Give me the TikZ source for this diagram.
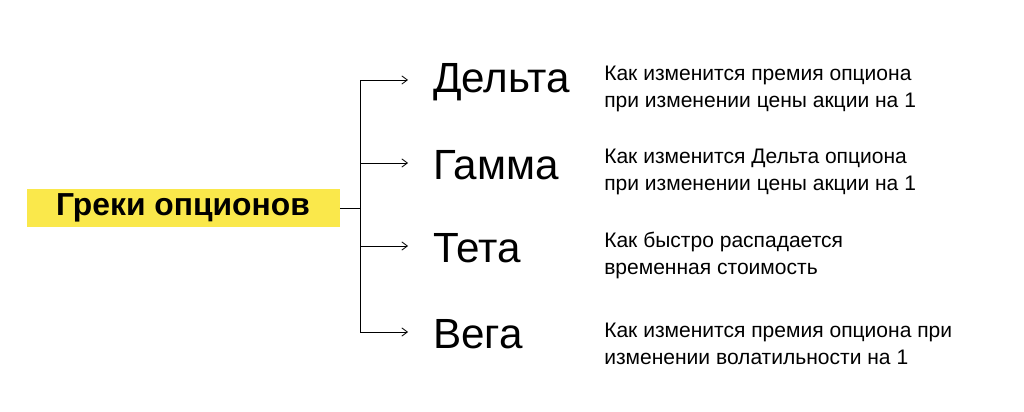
\documentclass[tikz,border=0pt]{standalone}
\usepackage{fontspec}
\setmainfont{Liberation Sans}
\usetikzlibrary{positioning,arrows.meta}
\definecolor{greekyellow}{HTML}{FAE84B}
\tikzset{greek/.style={anchor=west,inner sep=0pt,font=\fontsize{30.5}{36}\selectfont},
  note/.style={anchor=west,inner sep=0pt,align=left,font=\fontsize{15.2}{19.5}\selectfont},
  ptr/.style={draw,-{Straight Barb[length=4pt,width=6pt]},line width=0.6pt}}
\begin{document}
\begin{tikzpicture}[x=0.0254cm,y=-0.0254cm]
  \useasboundingbox[fill=white] (0,0) rectangle (1024,412);
  \node[fill=greekyellow,minimum width=313*0.0254cm,minimum height=36*0.0254cm,
        font=\bfseries\fontsize{23}{26}\selectfont] (root) at (183,208) {Греки опционов};
  \coordinate (hub) at (360,208);
  \node[greek] (delta) at (433,82) {Дельта};
  \node[greek] (gamma) at (433,165) {Гамма};
  \node[greek] (theta) at (433,248) {Тета};
  \node[greek] (vega) at (433,334) {Вега};
  \node[note] (n1) at (604,89) {Как изменится премия опциона\\при изменении цены акции на 1};
  \node[note] (n2) at (604,172) {Как изменится Дельта опциона\\при изменении цены акции на 1};
  \node[note] (n3) at (604,255) {Как быстро распадается\\временная стоимость};
  \node[note] (n4) at (604,344) {Как изменится премия опциона при\\изменении волатильности на 1};
  \draw[line width=0.6pt] (root.east) -- (hub);
  \foreach \g in {delta,gamma,theta,vega}
    \path[ptr] (hub) |- ([xshift=-25*0.0254cm,yshift=2*0.0254cm]\g.west);
\end{tikzpicture}
\end{document}
